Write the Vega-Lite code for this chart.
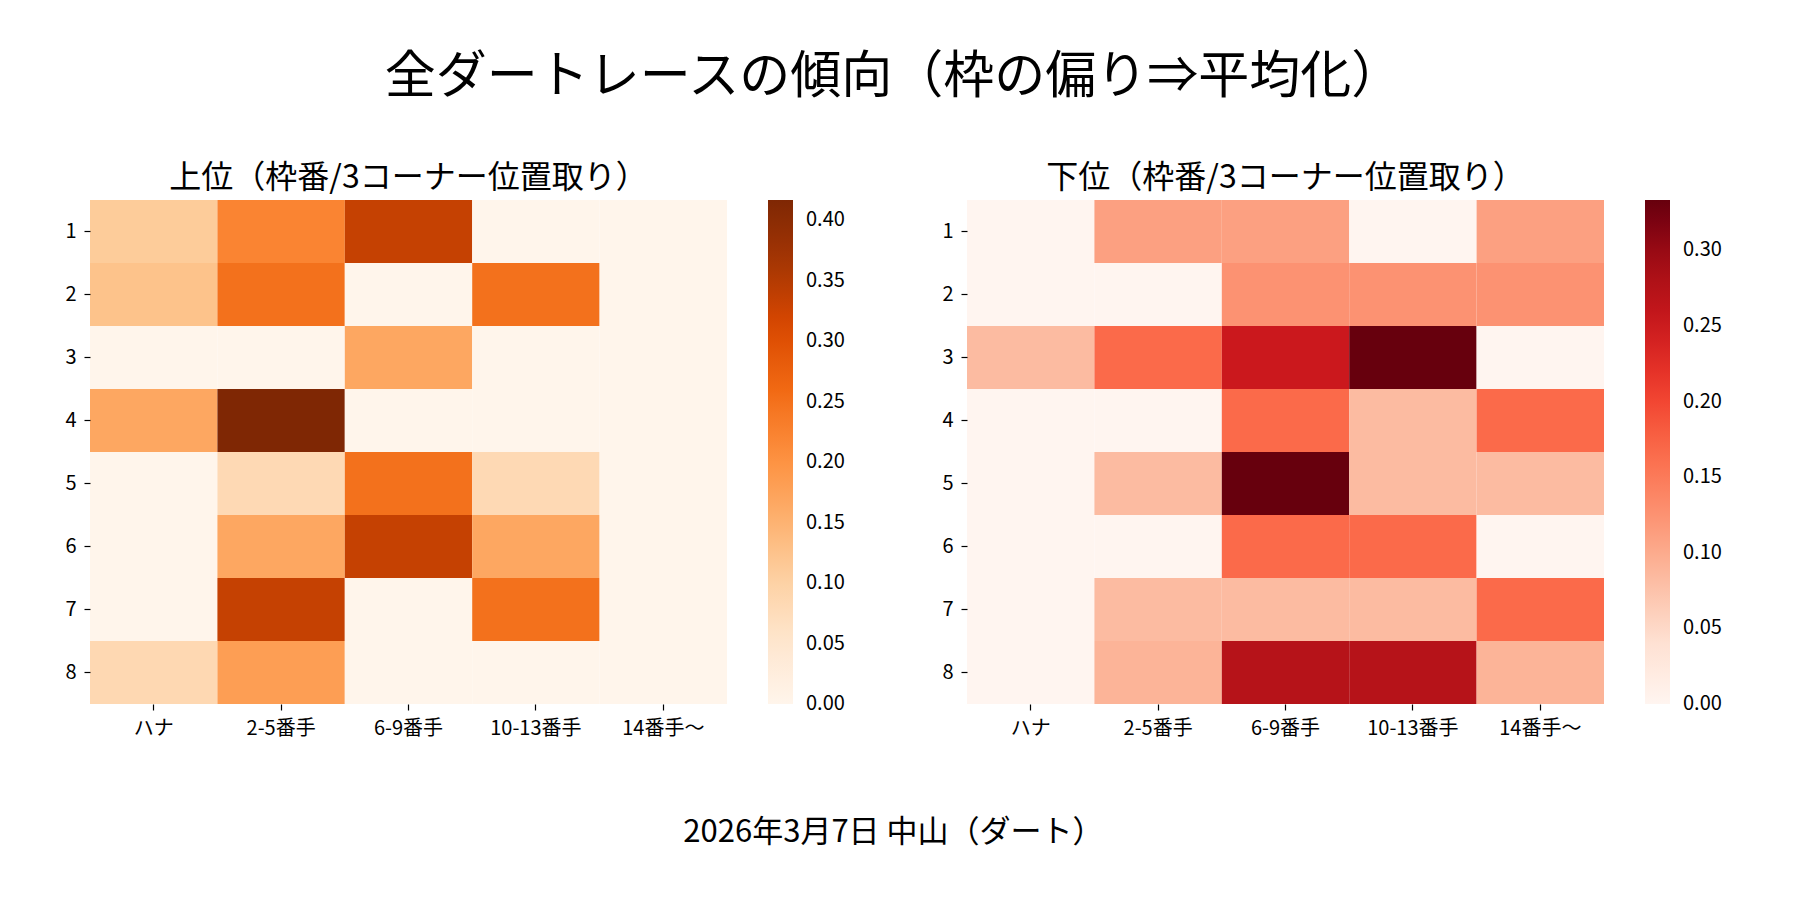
{
  "$schema": "https://vega.github.io/schema/vega-lite/v6.json",
  "background": "white",
  "padding": {"left": 64, "top": 52, "right": 5, "bottom": 5},
  "title": {
    "text": "全ダートレースの傾向（枠の偏り⇒平均化）",
    "fontSize": 51,
    "fontWeight": "normal",
    "anchor": "middle",
    "offset": 58
  },
  "datasets": {
    "upper": [
      {"frame": 1, "pos": "ハナ", "value": 0.111},
      {"frame": 1, "pos": "2-5番手", "value": 0.222},
      {"frame": 1, "pos": "6-9番手", "value": 0.333},
      {"frame": 1, "pos": "10-13番手", "value": 0},
      {"frame": 1, "pos": "14番手〜", "value": 0},
      {"frame": 2, "pos": "ハナ", "value": 0.125},
      {"frame": 2, "pos": "2-5番手", "value": 0.25},
      {"frame": 2, "pos": "6-9番手", "value": 0},
      {"frame": 2, "pos": "10-13番手", "value": 0.25},
      {"frame": 2, "pos": "14番手〜", "value": 0},
      {"frame": 3, "pos": "ハナ", "value": 0},
      {"frame": 3, "pos": "2-5番手", "value": 0},
      {"frame": 3, "pos": "6-9番手", "value": 0.167},
      {"frame": 3, "pos": "10-13番手", "value": 0},
      {"frame": 3, "pos": "14番手〜", "value": 0},
      {"frame": 4, "pos": "ハナ", "value": 0.167},
      {"frame": 4, "pos": "2-5番手", "value": 0.4167},
      {"frame": 4, "pos": "6-9番手", "value": 0},
      {"frame": 4, "pos": "10-13番手", "value": 0},
      {"frame": 4, "pos": "14番手〜", "value": 0},
      {"frame": 5, "pos": "ハナ", "value": 0},
      {"frame": 5, "pos": "2-5番手", "value": 0.083},
      {"frame": 5, "pos": "6-9番手", "value": 0.25},
      {"frame": 5, "pos": "10-13番手", "value": 0.083},
      {"frame": 5, "pos": "14番手〜", "value": 0},
      {"frame": 6, "pos": "ハナ", "value": 0},
      {"frame": 6, "pos": "2-5番手", "value": 0.167},
      {"frame": 6, "pos": "6-9番手", "value": 0.333},
      {"frame": 6, "pos": "10-13番手", "value": 0.167},
      {"frame": 6, "pos": "14番手〜", "value": 0},
      {"frame": 7, "pos": "ハナ", "value": 0},
      {"frame": 7, "pos": "2-5番手", "value": 0.333},
      {"frame": 7, "pos": "6-9番手", "value": 0},
      {"frame": 7, "pos": "10-13番手", "value": 0.25},
      {"frame": 7, "pos": "14番手〜", "value": 0},
      {"frame": 8, "pos": "ハナ", "value": 0.085},
      {"frame": 8, "pos": "2-5番手", "value": 0.182},
      {"frame": 8, "pos": "6-9番手", "value": 0},
      {"frame": 8, "pos": "10-13番手", "value": 0},
      {"frame": 8, "pos": "14番手〜", "value": 0}
    ],
    "lower": [
      {"frame": 1, "pos": "ハナ", "value": 0},
      {"frame": 1, "pos": "2-5番手", "value": 0.111},
      {"frame": 1, "pos": "6-9番手", "value": 0.111},
      {"frame": 1, "pos": "10-13番手", "value": 0},
      {"frame": 1, "pos": "14番手〜", "value": 0.111},
      {"frame": 2, "pos": "ハナ", "value": 0},
      {"frame": 2, "pos": "2-5番手", "value": 0},
      {"frame": 2, "pos": "6-9番手", "value": 0.125},
      {"frame": 2, "pos": "10-13番手", "value": 0.125},
      {"frame": 2, "pos": "14番手〜", "value": 0.125},
      {"frame": 3, "pos": "ハナ", "value": 0.083},
      {"frame": 3, "pos": "2-5番手", "value": 0.167},
      {"frame": 3, "pos": "6-9番手", "value": 0.25},
      {"frame": 3, "pos": "10-13番手", "value": 0.3333},
      {"frame": 3, "pos": "14番手〜", "value": 0},
      {"frame": 4, "pos": "ハナ", "value": 0},
      {"frame": 4, "pos": "2-5番手", "value": 0},
      {"frame": 4, "pos": "6-9番手", "value": 0.167},
      {"frame": 4, "pos": "10-13番手", "value": 0.083},
      {"frame": 4, "pos": "14番手〜", "value": 0.167},
      {"frame": 5, "pos": "ハナ", "value": 0},
      {"frame": 5, "pos": "2-5番手", "value": 0.083},
      {"frame": 5, "pos": "6-9番手", "value": 0.3333},
      {"frame": 5, "pos": "10-13番手", "value": 0.083},
      {"frame": 5, "pos": "14番手〜", "value": 0.083},
      {"frame": 6, "pos": "ハナ", "value": 0},
      {"frame": 6, "pos": "2-5番手", "value": 0},
      {"frame": 6, "pos": "6-9番手", "value": 0.167},
      {"frame": 6, "pos": "10-13番手", "value": 0.167},
      {"frame": 6, "pos": "14番手〜", "value": 0},
      {"frame": 7, "pos": "ハナ", "value": 0},
      {"frame": 7, "pos": "2-5番手", "value": 0.083},
      {"frame": 7, "pos": "6-9番手", "value": 0.083},
      {"frame": 7, "pos": "10-13番手", "value": 0.083},
      {"frame": 7, "pos": "14番手〜", "value": 0.167},
      {"frame": 8, "pos": "ハナ", "value": 0},
      {"frame": 8, "pos": "2-5番手", "value": 0.091},
      {"frame": 8, "pos": "6-9番手", "value": 0.273},
      {"frame": 8, "pos": "10-13番手", "value": 0.273},
      {"frame": 8, "pos": "14番手〜", "value": 0.091}
    ]
  },
  "vconcat": [
    {
      "title": {
        "text": "2026年3月7日 中山（ダート）",
        "orient": "bottom",
        "anchor": "middle",
        "fontSize": 31,
        "fontWeight": "normal",
        "offset": 80
      },
      "bounds": "flush",
      "spacing": 240,
      "resolve": {"scale": {"color": "independent"}},
      "hconcat": [
        {
          "data": {"name": "upper"},
          "title": {"text": "上位（枠番/3コーナー位置取り）"},
          "width": 637,
          "height": 504,
          "mark": "rect",
          "encoding": {
            "x": {
              "field": "pos",
              "type": "ordinal",
              "sort": ["ハナ", "2-5番手", "6-9番手", "10-13番手", "14番手〜"],
              "title": null
            },
            "y": {"field": "frame", "type": "ordinal", "title": null},
            "color": {
              "field": "value",
              "type": "quantitative",
              "scale": {
                "domain": [0, 0.052083, 0.104167, 0.15625, 0.208333, 0.260417, 0.3125, 0.364583, 0.416667],
                "range": ["#fff5eb", "#fee6ce", "#fdd0a2", "#fdae6b", "#fd8d3c", "#f16913", "#d94801", "#a63603", "#7f2704"]
              },
              "legend": {
                "values": [0.0001, 0.05, 0.1, 0.15, 0.2, 0.25, 0.3, 0.35, 0.4],
                "labelOffset": 13
              }
            }
          }
        },
        {
          "data": {"name": "lower"},
          "title": {"text": "下位（枠番/3コーナー位置取り）"},
          "width": 637,
          "height": 504,
          "mark": "rect",
          "encoding": {
            "x": {
              "field": "pos",
              "type": "ordinal",
              "sort": ["ハナ", "2-5番手", "6-9番手", "10-13番手", "14番手〜"],
              "title": null
            },
            "y": {"field": "frame", "type": "ordinal", "title": null},
            "color": {
              "field": "value",
              "type": "quantitative",
              "scale": {
                "domain": [0, 0.041667, 0.083333, 0.125, 0.166667, 0.208333, 0.25, 0.291667, 0.333333],
                "range": ["#fff5f0", "#fee0d2", "#fcbba1", "#fc9272", "#fb6a4a", "#ef3b2c", "#cb181d", "#a50f15", "#67000d"]
              },
              "legend": {
                "values": [0.0001, 0.05, 0.1, 0.15, 0.2, 0.25, 0.3],
                "labelOffset": 13
              }
            }
          }
        }
      ]
    }
  ],
  "config": {
    "font": "Noto Sans CJK JP",
    "view": {"stroke": null},
    "title": {"fontSize": 32, "fontWeight": "normal", "color": "black", "offset": 5, "font": "Noto Sans CJK JP"},
    "axis": {
      "domain": false,
      "labelFontSize": 20,
      "labelColor": "black",
      "labelAngle": 0,
      "labelPadding": 8,
      "tickSize": 6,
      "tickColor": "black",
      "tickWidth": 1.2,
      "grid": false
    },
    "legend": {
      "type": "gradient",
      "title": null,
      "direction": "vertical",
      "gradientLength": 504,
      "gradientThickness": 25,
      "gradientStrokeWidth": 0,
      "offset": 41,
      "labelFontSize": 20,
      "labelColor": "black",
      "labelOverlap": false,
      "format": ".2f"
    }
  }
}
